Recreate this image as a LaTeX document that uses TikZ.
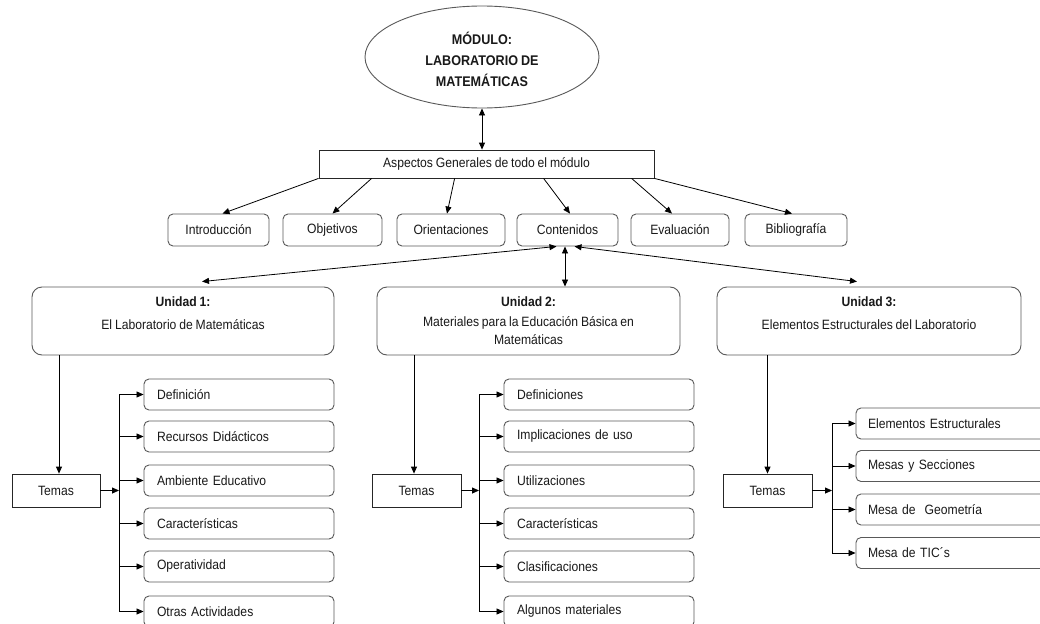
\documentclass[tikz,border=0pt]{standalone}
\usepackage{fontspec}
\setmainfont{Liberation Sans}[FakeStretch=0.9, WordSpace=0.85]
\usetikzlibrary{arrows.meta,shapes.geometric}
\begin{document}
\begin{tikzpicture}[x=1pt,y=-1pt,
  every node/.style={font=\fontsize{13.5}{15}\selectfont, text=black!90},
  sqbox/.style={draw=black!85, line width=0.8pt, inner sep=0pt},
  rbox/.style={draw=black!65, line width=0.9pt, rounded corners=5pt, inner sep=0pt, minimum height=32pt},
  ubox/.style={draw=black!65, line width=0.9pt, rounded corners=10pt, inner sep=0pt, minimum height=68pt},
  topic/.style={draw=black!65, line width=0.9pt, rounded corners=5pt, minimum height=31pt, inner ysep=0pt, inner xsep=13pt, align=left},
  head/.style={font=\bfseries\fontsize{13.5}{15}\selectfont},
  tip/.tip={Triangle[length=7pt,width=6pt]},
  arr/.style={-tip, line width=0.8pt, black},
  darr/.style={tip-tip, line width=0.8pt, black},
  ln/.style={line width=0.8pt, black}]
\clip (0,0) rectangle (1040,623);
\fill[white] (0,0) rectangle (1040,623);

% module title
\node[ellipse, draw=black!65, line width=0.9pt, minimum width=234pt, minimum height=102pt, inner sep=0pt] (mod) at (482,57) {};
\node[align=center, font=\bfseries\fontsize{14}{21}\selectfont] (modt) at (482,59)
      {MÓDULO:\\LABORATORIO DE\\MATEMÁTICAS};

% general aspects
\node[sqbox, minimum width=335pt, minimum height=28pt] (asp) at (486.5,164) {Aspectos Generales de todo el módulo};

\node[rbox, minimum width=101pt] (intro) at (218.5,230) {Introducción};
\node[rbox, minimum width=99pt]  (obj)   at (332.5,230) {Objetivos};
\node[rbox, minimum width=108pt] (ori)   at (451,230)   {Orientaciones};
\node[rbox, minimum width=101pt] (cont)  at (567.5,230) {Contenidos};
\node[rbox, minimum width=98pt]  (eva)   at (680,230)   {Evaluación};
\node[rbox, minimum width=102pt] (bib)   at (796,230)   {Bibliografía};

\draw[darr] (mod.south) -- (mod.south |- asp.north);
\draw[arr] (asp.south west) -- ([xshift=4pt]intro.north);
\draw[arr] ([xshift=53pt]asp.south west) -- (obj.north);
\draw[arr] ([xshift=136pt]asp.south west) -- ([xshift=-4pt]ori.north);
\draw[arr] ([xshift=225pt]asp.south west) -- ([xshift=2.5pt]cont.north);
\draw[arr] ([xshift=313pt]asp.south west) -- ([xshift=-8pt]eva.north);
\draw[arr] (asp.south east) -- ([xshift=-4pt]bib.north);

% units
\node[ubox, minimum width=302pt] (u1) at (183,321) {};
\node[ubox, minimum width=303pt] (u2) at (528.5,321) {};
\node[ubox, minimum width=304pt] (u3) at (869,321) {};
\node[head] (u1h) at (183,302) {Unidad 1:};
\node (u1b) at (183,325) {El Laboratorio de Matemáticas};
\node[head] (u2h) at (528.5,302) {Unidad 2:};
\node[align=center, font=\fontsize{13.5}{18}\selectfont] (u2b) at (528.5,331) {Materiales para la Educación Básica en\\Matemáticas};
\node[head] (u3h) at (869,302) {Unidad 3:};
\node (u3b) at (869,325) {Elementos Estructurales del Laboratorio};

\draw[darr] ([xshift=-11pt]cont.south) -- ([xshift=19pt,yshift=5pt]u1.north);
\draw[darr] ([xshift=-2.5pt]cont.south) -- ([xshift=-2.5pt]cont.south |- u2.north);
\draw[darr] ([xshift=7pt]cont.south) -- ([xshift=-12pt,yshift=5pt]u3.north);

% topic headers
\node[sqbox, minimum width=88pt, minimum height=33pt] (t1) at (56,490.5) {Temas};
\node[sqbox, minimum width=89pt, minimum height=33pt] (t2) at (416.5,490.5) {Temas};
\node[sqbox, minimum width=89pt, minimum height=33pt] (t3) at (767.5,490.5) {Temas};
\coordinate (t1in) at ([xshift=3pt]t1.north);
\coordinate (t2in) at ([xshift=-2.5pt]t2.north);
\coordinate (t3in) at (t3.north);
\draw[arr] (u1.south -| t1in) -- (t1in);
\draw[arr] (u2.south -| t2in) -- (t2in);
\draw[arr] (u3.south -| t3in) -- (t3in);

% unit 1 topics
\node[topic, text width=164pt] (d11) at (239,394.5) {Definición};
\node[topic, text width=164pt] (d12) at (239,436.5) {Recursos Didácticos};
\node[topic, text width=164pt] (d13) at (239,480.5) {Ambiente Educativo};
\node[topic, text width=164pt] (d14) at (239,523.5) {Características};
\node[topic, text width=164pt] (d15) at (239,566.5) {Operatividad};
\node[topic, text width=164pt] (d16) at (239,611.5) {Otras Actividades};

% unit 2 topics
\node[topic, text width=164pt] (d21) at (599,394.5) {Definiciones};
\node[topic, text width=164pt] (d22) at (599,436.5) {Implicaciones de uso};
\node[topic, text width=164pt] (d23) at (599,480.5) {Utilizaciones};
\node[topic, text width=164pt] (d24) at (599,523.5) {Características};
\node[topic, text width=164pt] (d25) at (599,566.5) {Clasificaciones};
\node[topic, text width=164pt] (d26) at (599,611.5) {Algunos materiales};

% unit 3 topics
\node[topic, text width=176pt, inner xsep=12pt] (d31) at (956,423.5) {Elementos Estructurales};
\node[topic, text width=176pt, inner xsep=12pt] (d32) at (956,466)   {Mesas y Secciones};
\node[topic, text width=176pt, inner xsep=12pt] (d33) at (956,509.5) {Mesa de \ Geometría};
\node[topic, text width=176pt, inner xsep=12pt] (d34) at (956,553)   {Mesa de TIC´s};

% brackets
\coordinate (k1) at (119,0);
\coordinate (k2) at (479,0);
\coordinate (k3) at (832,0);
\draw[arr] (t1.east) -- (t1.east -| k1);
\draw[arr] (t2.east) -- (t2.east -| k2);
\draw[arr] (t3.east) -- (t3.east -| k3);
\draw[ln] (k1 |- d11.west) -- (k1 |- d16.west);
\draw[ln] (k2 |- d21.west) -- (k2 |- d26.west);
\draw[ln] (k3 |- d31.west) -- (k3 |- d34.west);
\foreach \i in {1,...,6} {
  \draw[arr] (k1 |- d1\i.west) -- (d1\i.west);
  \draw[arr] (k2 |- d2\i.west) -- (d2\i.west);
}
\foreach \i in {1,...,4} {
  \draw[arr] (k3 |- d3\i.west) -- (d3\i.west);
}
\end{tikzpicture}
\end{document}
